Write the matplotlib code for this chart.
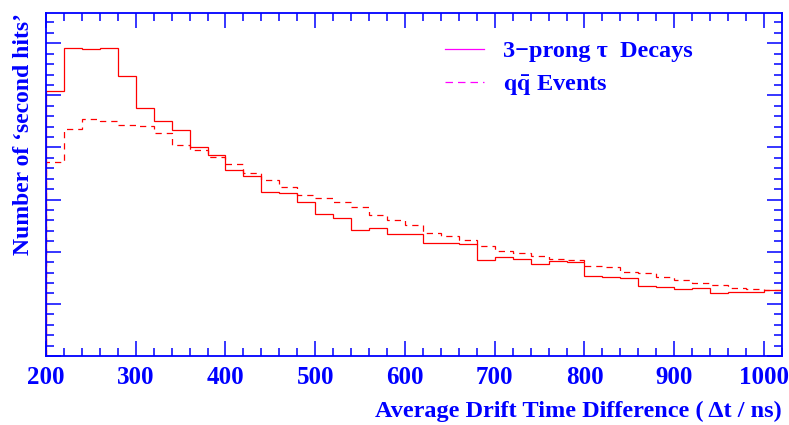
import matplotlib
matplotlib.use('Agg')
import matplotlib.pyplot as plt
from matplotlib.ticker import MultipleLocator, NullFormatter
from matplotlib.lines import Line2D
import numpy as np

BLUE = '#0000ff'
RED = '#ff0000'
MAGENTA = '#ff00ff'

plt.rcParams['font.family'] = ['Liberation Serif', 'DejaVu Serif']
plt.rcParams['font.weight'] = 'bold'
plt.rcParams['mathtext.fontset'] = 'stix'

# bins of 20 ns from 200 to 1020
bin_edges = np.arange(200, 1040, 20)

tau_counts = [5086, 5906, 5887, 5906, 5380, 4766, 4505, 4338, 4017, 3852,
              3570, 3461, 3154, 3135, 2956, 2726, 2643, 2413, 2451, 2335,
              2335, 2175, 2163, 2150, 1849, 1894, 1868, 1766, 1817, 1804,
              1530, 1510, 1503, 1344, 1324, 1286, 1311, 1215, 1223, 1228,
              1261]

qq_counts = [3730, 4357, 4555, 4505, 4440, 4415, 4274, 4050, 3954, 3826,
             3685, 3506, 3372, 3250, 3090, 3027, 2962, 2860, 2712, 2610,
             2520, 2367, 2297, 2220, 2117, 2021, 1971, 1919, 1856, 1843,
             1733, 1702, 1618, 1587, 1516, 1459, 1395, 1357, 1311, 1286,
             1267]

fig = plt.figure(figsize=(7.89, 4.25), dpi=100)
ax = fig.add_axes([0.0583, 0.1624, 0.9327, 0.807])

ax.stairs(tau_counts, bin_edges, color=RED, lw=0.9, baseline=0)
ax.stairs(qq_counts, bin_edges, color=RED, lw=0.9, baseline=0,
          linestyle=(0, (5, 4)))

ax.set_xlim(200, 1020)
ax.set_ylim(0, 6580)

ax.xaxis.set_major_locator(MultipleLocator(100))
ax.xaxis.set_minor_locator(MultipleLocator(20))
ax.yaxis.set_major_locator(MultipleLocator(1000))
ax.yaxis.set_minor_locator(MultipleLocator(200))
ax.yaxis.set_major_formatter(NullFormatter())

ax.tick_params(which='both', direction='in', top=True, right=True,
               color=BLUE, width=1.1)
ax.tick_params(which='major', length=11)
ax.tick_params(which='minor', length=5.5)
ax.tick_params(axis='x', labelsize=18, labelcolor=BLUE, pad=7)
for lab in ax.get_xticklabels():
    lab.set_fontweight('bold')

for sp in ax.spines.values():
    sp.set_color(BLUE)
    sp.set_linewidth(1.3)

ax.set_xlabel('Average Drift Time Difference ( Δt / ns)', fontsize=17.5,
              fontweight='bold', color=BLUE, ha='right', x=1.0, labelpad=9)
ax.set_ylabel('Number of ‘second hits’', fontsize=17, fontweight='bold',
              color=BLUE, ha='right', y=1.0, labelpad=5)

handles = [Line2D([], [], color=MAGENTA, lw=0.9),
           Line2D([], [], color=MAGENTA, lw=0.9, linestyle=(0, (6, 4)))]
labels = ['3−prong τ  Decays', r'$\mathbf{q\bar{q}}$ Events']
leg = ax.legend(handles, labels, loc='upper left', bbox_to_anchor=(0.512, 0.985),
                frameon=False, fontsize=17.5, handlelength=1.6, handletextpad=0.8,
                labelspacing=0.45)
for t in leg.get_texts():
    t.set_color(BLUE)
    t.set_fontweight('bold')

fig.savefig('out.png', dpi=100, facecolor='white')
